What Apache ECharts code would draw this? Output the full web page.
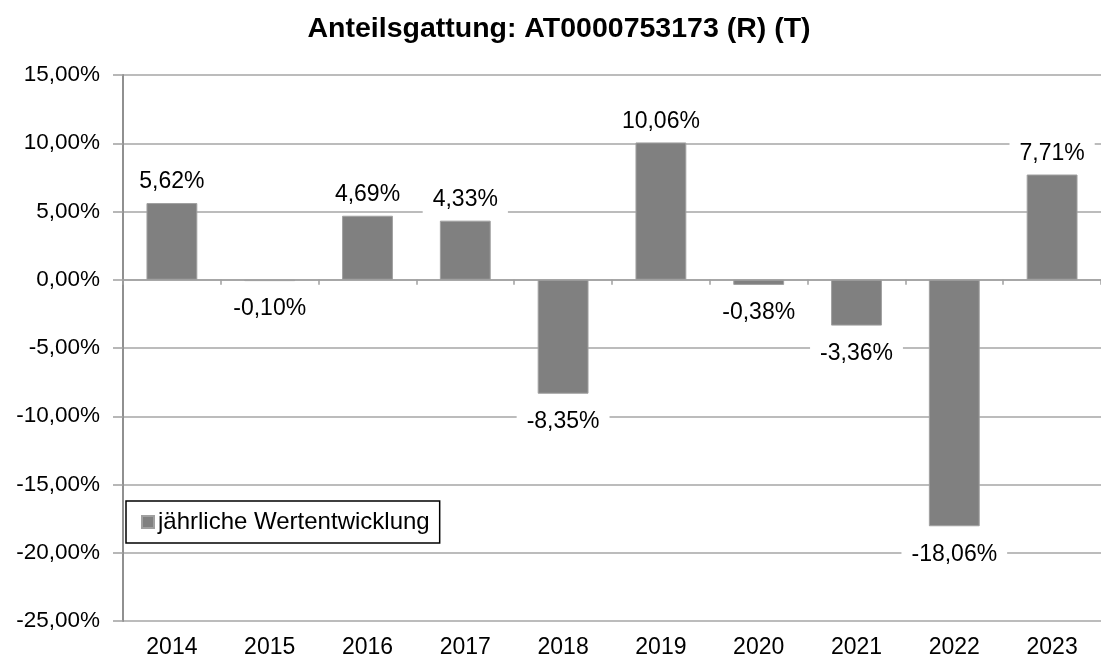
<!DOCTYPE html>
<html>
<head>
<meta charset="utf-8">
<script src="https://cdn.jsdelivr.net/npm/echarts@6/dist/echarts.min.js"></script>
<style>
html,body{margin:0;padding:0;background:#fff;}
#chart{width:1101px;height:660px;}
</style>
</head>
<body>
<div id="chart"></div>
<script>
const chartTitle = 'Anteilsgattung: AT0000753173 (R) (T)';
const seriesName = 'jährliche Wertentwicklung';
const years = ['2014','2015','2016','2017','2018','2019','2020','2021','2022','2023'];
const values = [5.62, -0.10, 4.69, 4.33, -8.35, 10.06, -0.38, -3.36, -18.06, 7.71];
const yMin = -25, yMax = 15, yStep = 5;

const fmt = v => v.toFixed(2).replace('.', ',') + '%';
const FONT = '"Liberation Sans", Arial, sans-serif';

const chart = echarts.init(document.getElementById('chart'), null, {renderer: 'canvas'});
chart.setOption({
  animation: false,
  backgroundColor: '#ffffff',
  title: {
    text: chartTitle,
    left: 559, top: 15, textAlign: 'center', padding: 0,
    textStyle: {fontFamily: FONT, fontSize: 28.5, fontWeight: 'bold', color: '#000'}
  },
  grid: {left: 123, right: -11, top: 75, bottom: 39, containLabel: false},
  legend: {
    left: 126, top: 501,
    orient: 'horizontal',
    data: [seriesName],
    icon: 'rect', itemWidth: 12, itemHeight: 12, itemGap: 5,
    padding: [9, 10, 9, 15],
    borderColor: '#000', borderWidth: 1.5, backgroundColor: '#fff',
    textStyle: {fontFamily: FONT, fontSize: 24, color: '#000', padding: [0,0,0,-1]}
  },
  xAxis: [
    {
      type: 'category', data: years, position: 'bottom',
      axisLine: {show: false, onZero: false},
      axisTick: {show: false},
      axisLabel: {fontFamily: FONT, fontSize: 23, color: '#000', margin: 15},
      splitLine: {show: false}
    },
    {
      type: 'category', data: years, position: 'top',
      axisLine: {show: true, onZero: true, lineStyle: {color: '#a0a0a0', width: 1.5}},
      axisTick: {show: true, inside: true, length: 5, lineStyle: {color: '#a0a0a0', width: 1.5}},
      axisLabel: {show: false},
      splitLine: {show: false}
    }
  ],
  yAxis: {
    type: 'value', min: yMin, max: yMax, interval: yStep,
    axisLine: {show: true, lineStyle: {color: '#909090', width: 2}},
    axisTick: {show: true, length: 10, lineStyle: {color: '#a0a0a0', width: 1.5}},
    axisLabel: {fontFamily: FONT, fontSize: 22.5, color: '#000', margin: 23, formatter: fmt},
    splitLine: {show: true, lineStyle: {color: '#a6a6a6', width: 1.5}}
  },
  series: [{
    name: seriesName,
    type: 'bar',
    xAxisIndex: 0,
    barWidth: '52%',
    itemStyle: {color: '#808080', borderColor: '#a0a0a0', borderWidth: 1},
    data: values.map(v => ({
      value: v,
      label: {position: v >= 0 ? 'top' : 'bottom', distance: v >= 0 ? 7 : 14}
    })),
    label: {
      show: true,
      fontFamily: FONT, fontSize: 23, color: '#000',
      lineHeight: 24,
      backgroundColor: '#fff', padding: [2, 10],
      formatter: p => fmt(p.value)
    }
  }]
});
</script>
</body>
</html>
